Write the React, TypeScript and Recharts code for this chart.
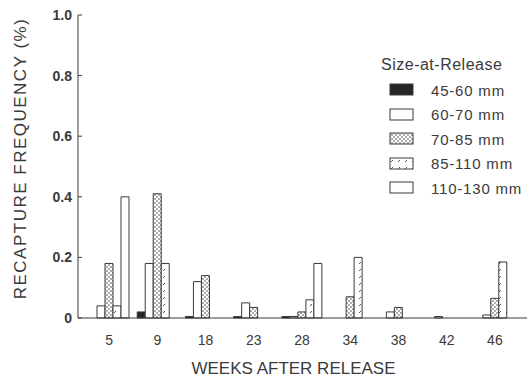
import React from "react";
import { Bar, ComposedChart, Label, XAxis, YAxis } from "recharts";

const weeks = ["5", "9", "18", "23", "28", "34", "38", "42", "46"];
const size45to60 = [0, 0.02, 0.005, 0.005, 0.005, 0, 0, 0, 0];
const size60to70 = [0.04, 0.18, 0.12, 0.05, 0.005, 0, 0.02, 0.005, 0.01];
const size70to85 = [0.18, 0.41, 0.14, 0.035, 0.02, 0.07, 0.035, 0, 0.065];
const size85to110 = [0.04, 0.18, 0, 0, 0.06, 0.2, 0, 0, 0.185];
const size110to130 = [0.4, 0, 0, 0, 0.18, 0, 0, 0, 0];
const yTicks = [0, 0.2, 0.4, 0.6, 0.8, 1.0];

const series = [
  { key: "s1", name: "45-60 mm", fill: "#262626" },
  { key: "s2", name: "60-70 mm", fill: "#ffffff" },
  { key: "s3", name: "70-85 mm", fill: "url(#hatch)" },
  { key: "s4", name: "85-110 mm", fill: "url(#dash)" },
  { key: "s5", name: "110-130 mm", fill: "#ffffff" },
];

const data = weeks.map((week, i) => ({
  week,
  s1: size45to60[i],
  s2: size60to70[i],
  s3: size70to85[i],
  s4: size85to110[i],
  s5: size110to130[i],
}));

const ink = "#3a3a3a";
const font = "'Liberation Sans', Arial, sans-serif";

function YTick({ x, y, payload }: any) {
  const v = Number(payload.value);
  return (
    <g>
      <text x={x} y={y} dy={5} textAnchor="end" fill={ink} fontSize={14} fontWeight="bold" fontFamily={font}>
        {v === 0 ? "0" : v.toFixed(1)}
      </text>
      <line x1={x + 6} x2={x + 10} y1={y} y2={y} stroke={ink} strokeWidth={1} />
    </g>
  );
}

// legend drawn over the plot, top right
function LegendBox() {
  return (
    <div style={{ position: "absolute", top: 56, left: 381, fontFamily: font, color: ink }}>
      <div style={{ fontSize: 16, letterSpacing: 0.5, marginBottom: 4 }}>Size-at-Release</div>
      {series.map((s) => (
        <div key={s.key} style={{ display: "flex", alignItems: "center", height: 24.5 }}>
          <svg width={26} height={14} style={{ marginLeft: 8 }}>
            <rect x={1} y={1} width={23} height={11} fill={s.fill} stroke={ink} strokeWidth={1} />
          </svg>
          <span style={{ fontSize: 15, letterSpacing: 0.8, marginLeft: 16 }}>{s.name}</span>
        </div>
      ))}
    </div>
  );
}

export default function App() {
  return (
    <div style={{ position: "absolute", left: 0, top: 0, width: 529, height: 379, background: "#fff" }}>
      <ComposedChart
        width={529}
        height={379}
        data={data}
        margin={{ top: 15, right: 2, bottom: 0, left: 0 }}
        barSize={8}
        barGap={0}
      >
        <defs>
          <pattern id="hatch" width="4" height="4" patternUnits="userSpaceOnUse">
            <rect width="4" height="4" fill="#fff" />
            <circle cx="1" cy="1" r="0.8" fill="#444" />
            <circle cx="3" cy="3" r="0.8" fill="#444" />
          </pattern>
          <pattern id="dash" width="7" height="7" patternUnits="userSpaceOnUse">
            <rect width="7" height="7" fill="#fff" />
            <line x1="2" y1="5" x2="4" y2="3" stroke="#555" strokeWidth="1" />
          </pattern>
        </defs>
        <XAxis
          dataKey="week"
          height={61}
          padding={{ left: 7, right: 8 }}
          tickLine={false}
          tickMargin={11}
          axisLine={{ stroke: ink }}
          tick={{ fill: ink, fontSize: 14, fontFamily: font }}
        >
          <Label
            content={({ viewBox }: any) => (
              <text
                x={viewBox.x + viewBox.width / 2 - 9}
                y={viewBox.y + viewBox.height - 5}
                textAnchor="middle"
                fill={ink}
                fontSize={17}
                fontFamily={font}
              >
                WEEKS AFTER RELEASE
              </text>
            )}
          />
        </XAxis>
        <XAxis xAxisId="top" dataKey="week" orientation="top" height={0} tick={false} tickLine={false} axisLine={{ stroke: ink }}>
          <Label
            content={() => (
              <text x={291} y={48} textAnchor="middle" fill={ink} fontSize={13} fontFamily={font}>
                KANEOHE BAY
              </text>
            )}
          />
        </XAxis>
        <YAxis
          width={78}
          domain={[0, 1]}
          ticks={yTicks}
          tickSize={0}
          tickLine={false}
          tickMargin={6}
          axisLine={{ stroke: ink }}
          tick={<YTick />}
        >
          <Label
            content={({ viewBox }: any) => {
              const cx = 22;
              const cy = viewBox.y + viewBox.height / 2 - 8;
              return (
                <text
                  x={cx}
                  y={cy}
                  transform={`rotate(-90, ${cx}, ${cy})`}
                  textAnchor="middle"
                  dominantBaseline="middle"
                  fill={ink}
                  fontSize={17}
                  letterSpacing={1.5}
                  fontFamily={font}
                >
                  RECAPTURE FREQUENCY (%)
                </text>
              );
            }}
          />
        </YAxis>
        <YAxis yAxisId="right" orientation="right" width={0} tick={false} tickLine={false} axisLine={{ stroke: ink }} />
        {series.map((s) => (
          <Bar
            key={s.key}
            dataKey={s.key}
            name={s.name}
            fill={s.fill}
            stroke={ink}
            strokeWidth={1}
            isAnimationActive={false}
          />
        ))}
      </ComposedChart>
      <LegendBox />
    </div>
  );
}
